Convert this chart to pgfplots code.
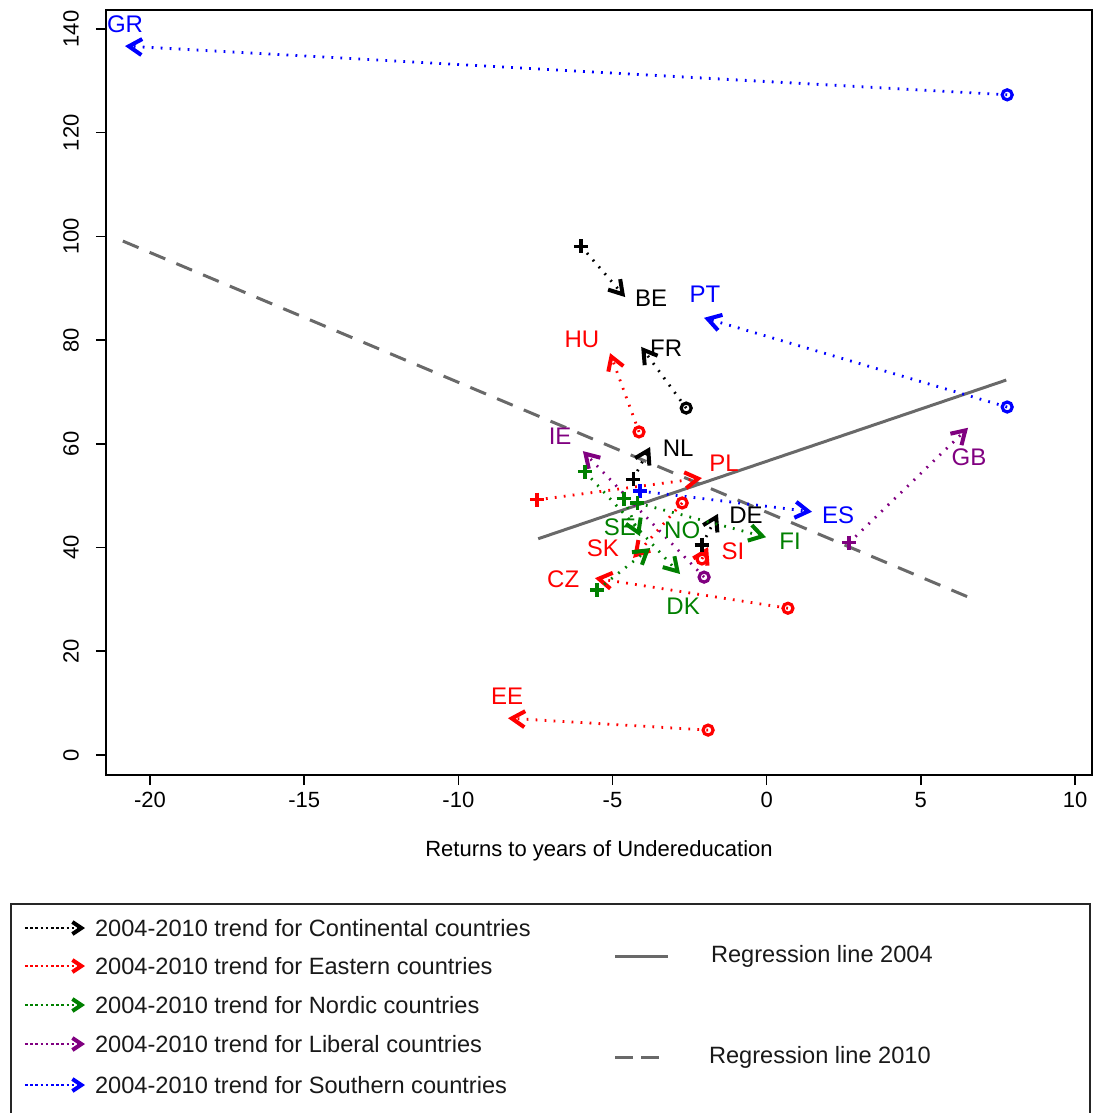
\documentclass[border=0pt]{standalone}
\usepackage{fontspec}
\setmainfont{Liberation Sans}
\usepackage{pgfplots}
\pgfplotsset{compat=1.18}
\usetikzlibrary{arrows.meta}

\definecolor{regc}{RGB}{105,105,105}
\definecolor{nordic}{RGB}{0,128,0}
\definecolor{liberal}{RGB}{128,0,128}

\tikzset{
  trend/.style={line width=1.4pt, dash pattern=on 0.9pt off 3.6pt,
    -{Straight Barb[length=6.5pt,width=8pt,line width=2pt]}},
  startO/.style={mark=o, mark size=2.5pt},
  startP/.style={mark=+, mark size=3.6pt},
  cty/.style={font=\fontsize{12}{14}\selectfont},
}

% #1 colour, #2 start-mark style, (#3,#4) value 2004, (#5,#6) value 2010
\newcommand{\trend}[6]{%
  \addplot[trend, color=#1] coordinates {(#3,#4) (#5,#6)};
  \addplot[only marks, #2, color=#1, mark options={solid, line width=1.6pt}] coordinates {(#3,#4)};
}

\begin{document}
\begin{tikzpicture}
\begin{axis}[
  at={(0,0)}, anchor=south west, scale only axis,
  width=493pt, height=382.5pt,
  xmin=-21.427, xmax=10.551, ymin=-3.857, ymax=143.66,
  xtick={-20,-15,-10,-5,0,5,10},
  xticklabels={-20,-15,-10,-5,0,5,10},
  ytick={0,20,40,60,80,100,120,140},
  yticklabels={0,20,40,60,80,100,120,140},
  xtick pos=left, ytick pos=left,
  tick align=outside, major tick length=5pt,
  tick style={black, line width=0.8pt},
  axis line style={black, line width=1pt},
  ticklabel style={font=\fontsize{11}{13}\selectfont},
  yticklabel style={rotate=90, anchor=south},
  yticklabel shift=5pt,
  xlabel={Returns to years of Undereducation},
  every axis x label/.style={at={(axis description cs:0.5,0)}, anchor=center,
    yshift=-38pt, font=\fontsize{11}{13}\selectfont},
  clip=false,
]
% regression lines
\addplot[regc, line width=1.5pt] coordinates {(-7.41,41.7) (7.77,72.3)};
\addplot[regc, line width=1.5pt, dash pattern=on 8.5pt off 6pt] coordinates {(-20.88,99.1) (6.60,30.3)};

% Southern
\trend{blue}{startO}{7.80}{127.3}{-20.81}{136.7}
\trend{blue}{startO}{7.80}{67.1}{-2.03}{84.3}
\trend{blue}{startP}{-4.11}{50.9}{1.47}{46.9}
% Continental
\trend{black}{startP}{-6.02}{98.1}{-4.59}{88.3}
\trend{black}{startO}{-2.61}{66.9}{-4.07}{78.7}
\trend{black}{startP}{-4.33}{53.2}{-3.78}{59.4}
\trend{black}{startP}{-2.10}{40.5}{-1.58}{46.5}
% Eastern
\trend{red}{startO}{-4.14}{62.3}{-5.08}{77.5}
\trend{red}{startP}{-7.45}{49.2}{-2.10}{53.4}
\trend{red}{startO}{-2.74}{48.6}{-4.33}{38.0}
\trend{red}{startO}{-2.10}{37.8}{-1.90}{40.1}
\trend{red}{startO}{0.69}{28.3}{-5.57}{34.1}
\trend{red}{startO}{-1.90}{4.8}{-8.39}{7.1}
% Nordic
\trend{nordic}{startP}{-4.63}{49.4}{-4.11}{42.2}
\trend{nordic}{startP}{-5.50}{31.8}{-3.78}{39.9}
\trend{nordic}{startP}{-4.20}{48.6}{-0.02}{42.0}
\trend{nordic}{startP}{-5.89}{54.6}{-2.81}{34.9}
% Liberal
\trend{liberal}{startO}{-2.03}{34.3}{-5.96}{58.6}
\trend{liberal}{startP}{2.67}{40.9}{6.53}{63.1}

% country codes
\node[cty, text=blue] at (axis cs:-20.81,141.0) {GR};
\node[cty, text=blue] at (axis cs:-2.00,88.9) {PT};
\node[cty, text=blue] at (axis cs:2.32,46.3) {ES};
\node[cty, text=black] at (axis cs:-3.75,88.1) {BE};
\node[cty, text=black] at (axis cs:-3.26,78.5) {FR};
\node[cty, text=black] at (axis cs:-2.87,59.2) {NL};
\node[cty, text=black] at (axis cs:-0.67,46.3) {DE};
\node[cty, text=red] at (axis cs:-5.99,80.2) {HU};
\node[cty, text=red] at (axis cs:-1.38,56.3) {PL};
\node[cty, text=red] at (axis cs:-5.31,39.9) {SK};
\node[cty, text=red] at (axis cs:-1.09,39.3) {SI};
\node[cty, text=red] at (axis cs:-6.60,33.9) {CZ};
\node[cty, text=red] at (axis cs:-8.42,11.4) {EE};
\node[cty, text=nordic] at (axis cs:-4.76,44.0) {SE};
\node[cty, text=nordic] at (axis cs:-2.74,43.4) {NO};
\node[cty, text=nordic] at (axis cs:0.76,41.3) {FI};
\node[cty, text=nordic] at (axis cs:-2.71,28.7) {DK};
\node[cty, text=liberal] at (axis cs:-6.70,61.5) {IE};
\node[cty, text=liberal] at (axis cs:6.56,57.5) {GB};
\end{axis}

% legend box
\draw[line width=0.8pt, black!85] (-47.5pt,-64.5pt) rectangle (492pt,-172pt);
\tikzset{legtxt/.style={anchor=west, font=\fontsize{11.8}{14}\selectfont, text=black!90},
  legarr/.style={line width=0.9pt, dash pattern=on 1.3pt off 1.3pt,
    -{Straight Barb[length=4.5pt,width=6pt,line width=2pt]}}}
\draw[legarr, black] (-40.5pt,-76.5pt) -- (-10.5pt,-76.5pt);
\node[legtxt] at (-9pt,-76.5pt) {2004-2010 trend for Continental countries};
\draw[legarr, red] (-40.5pt,-95.5pt) -- (-10.5pt,-95.5pt);
\node[legtxt] at (-9pt,-95.5pt) {2004-2010 trend for Eastern countries};
\draw[legarr, nordic] (-40.5pt,-115pt) -- (-10.5pt,-115pt);
\node[legtxt] at (-9pt,-115pt) {2004-2010 trend for Nordic countries};
\draw[legarr, liberal] (-40.5pt,-134.5pt) -- (-10.5pt,-134.5pt);
\node[legtxt] at (-9pt,-134.5pt) {2004-2010 trend for Liberal countries};
\draw[legarr, blue] (-40.5pt,-155pt) -- (-10.5pt,-155pt);
\node[legtxt] at (-9pt,-155pt) {2004-2010 trend for Southern countries};

\draw[regc, line width=1.5pt] (254.5pt,-90.5pt) -- (281pt,-90.5pt);
\node[legtxt] at (299pt,-90.5pt) {Regression line 2004};
\draw[regc, line width=1.5pt, dash pattern=on 9pt off 4pt] (254.5pt,-141pt) -- (277pt,-141pt);
\node[legtxt] at (298pt,-141pt) {Regression line 2010};

\pgfresetboundingbox
\path[use as bounding box] (-53pt,-169pt) rectangle (493.5pt,387.5pt);
\end{tikzpicture}
\end{document}
